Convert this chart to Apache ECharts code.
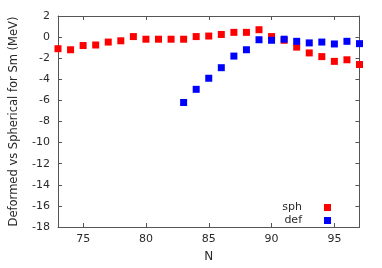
<!DOCTYPE html>
<html><head><meta charset="utf-8">
<script src="https://cdn.jsdelivr.net/npm/echarts@6/dist/echarts.min.js"></script>
<style>html,body{margin:0;padding:0;background:#fff}#c{width:382px;height:268px}</style>
</head><body><div id="c"></div>
<script>
const sphN = [73,74,75,76,77,78,79,80,81,82,83,84,85,86,87,88,89,90,91,92,93,94,95,96,97];
const sphVals = [-1.1,-1.2,-0.8,-0.75,-0.47,-0.35,0.05,-0.2,-0.2,-0.2,-0.2,0.05,0.1,0.25,0.45,0.45,0.7,0.05,-0.3,-0.95,-1.5,-1.85,-2.3,-2.15,-2.6];
const defN = [83,84,85,86,87,88,89,90,91,92,93,94,95,96,97];
const defVals = [-6.2,-4.95,-3.9,-2.9,-1.8,-1.2,-0.25,-0.3,-0.2,-0.4,-0.55,-0.47,-0.65,-0.4,-0.62];
const xTicks = [75,80,85,90,95];
const yTicks = [-18,-16,-14,-12,-10,-8,-6,-4,-2,0,2];

const font = 'DejaVu Sans';
const lineC = '#555';
const txtC = '#2a2a2a';
const chart = echarts.init(document.getElementById('c'));
chart.setOption({
  animation:false,
  textStyle:{fontFamily:font},
  grid:{left:57,right:22.5,top:16,bottom:38.7},
  legend:{
    orient:'vertical', align:'right', right:51, top:202, padding:0,
    itemWidth:7, itemHeight:7, itemGap:2,
    textStyle:{fontFamily:font,fontSize:11,color:txtC,padding:[0,17,0,0]},
    data:[{name:'sph',icon:'rect'},{name:'def',icon:'rect'}]
  },
  xAxis:[{
    type:'value', min:73, max:97, name:'N', nameLocation:'middle', nameGap:24,
    nameTextStyle:{fontFamily:font,fontSize:12,color:txtC},
    axisLine:{show:true,onZero:false,lineStyle:{color:lineC,width:1}},
    axisTick:{show:true,inside:true,length:4,customValues:xTicks,lineStyle:{color:lineC}},
    axisLabel:{customValues:xTicks,fontFamily:font,fontSize:11,color:txtC,margin:7},
    splitLine:{show:false}
  },{
    type:'value', position:'top', min:73, max:97,
    axisLine:{show:true,onZero:false,lineStyle:{color:lineC,width:1}},
    axisTick:{show:true,inside:true,length:4,customValues:xTicks,lineStyle:{color:lineC}},
    axisLabel:{show:false}, splitLine:{show:false}
  }],
  yAxis:[{
    type:'value', min:-18, max:2, interval:2,
    name:'Deformed vs Spherical for Sm (MeV)', nameLocation:'middle', nameGap:38, nameRotate:90,
    nameTextStyle:{fontFamily:font,fontSize:11.5,color:txtC},
    axisLine:{show:true,onZero:false,lineStyle:{color:lineC,width:1}},
    axisTick:{show:true,inside:true,length:4,lineStyle:{color:lineC}},
    axisLabel:{fontFamily:font,fontSize:11,color:txtC,margin:8},
    splitLine:{show:false}
  },{
    type:'value', position:'right', min:-18, max:2, interval:2,
    axisLine:{show:true,onZero:false,lineStyle:{color:lineC,width:1}},
    axisTick:{show:true,inside:true,length:4,lineStyle:{color:lineC}},
    axisLabel:{show:false}, splitLine:{show:false}
  }],
  series:[
    {name:'sph',type:'scatter',symbol:'rect',symbolSize:7,itemStyle:{color:'#ff0000',opacity:1},
     data:sphN.map((n,i)=>[n,sphVals[i]])},
    {name:'def',type:'scatter',symbol:'rect',symbolSize:7,itemStyle:{color:'#0000ff',opacity:1},
     data:defN.map((n,i)=>[n,defVals[i]])}
  ]
});
</script></body></html>
